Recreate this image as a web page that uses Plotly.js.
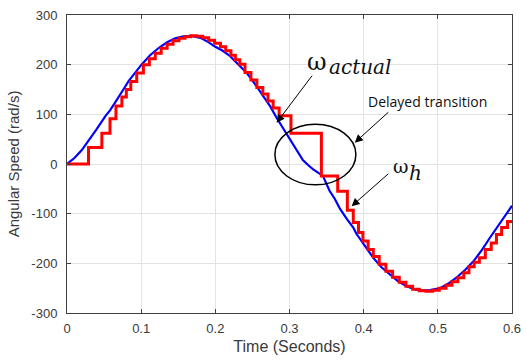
<!DOCTYPE html>
<html>
<head>
<meta charset="utf-8">
<script src="https://cdn.plot.ly/plotly-3.0.1.min.js"></script>
<style>html,body{margin:0;padding:0;background:#fff;}#chart{width:526px;height:360px;}</style>
</head>
<body>
<div id="chart"></div>
<script>
// Actual speed (blue)
const blueT = [0, 0.01, 0.02, 0.029, 0.04, 0.052, 0.058, 0.065, 0.07, 0.076, 0.083, 0.09, 0.101, 0.112, 0.124, 0.135, 0.146, 0.157, 0.168, 0.18, 0.19, 0.2, 0.21, 0.22, 0.232, 0.242, 0.253, 0.265, 0.274, 0.283, 0.296, 0.307, 0.318, 0.325, 0.332, 0.345, 0.354, 0.361, 0.368, 0.377, 0.386, 0.39, 0.4, 0.413, 0.424, 0.435, 0.446, 0.458, 0.47, 0.48, 0.49, 0.503, 0.515, 0.525, 0.537, 0.548, 0.56, 0.57, 0.582, 0.593, 0.6];
const blueV = [0, 12, 28, 46, 70, 97, 108, 124, 135, 150, 167, 180, 201, 219, 234, 245, 253, 257, 258, 254, 246, 236, 228, 217, 200, 184, 162, 137, 116, 92, 60, 33, 8, -2, -11, -24, -54, -70, -90, -110, -128, -140, -162, -189, -208, -222, -236, -246, -253, -255, -254, -250, -240, -229, -213, -196, -172, -149, -124, -101, -84];
// Hall-sensor speed estimate (red, sample-and-hold steps)
const redT = [0, 0.029, 0.047, 0.058, 0.066, 0.074, 0.08, 0.086, 0.094, 0.103, 0.111, 0.119, 0.127, 0.135, 0.143, 0.151, 0.159, 0.167, 0.175, 0.183, 0.191, 0.199, 0.207, 0.214, 0.221, 0.227, 0.233, 0.24, 0.248, 0.256, 0.264, 0.271, 0.278, 0.286, 0.302, 0.343, 0.365, 0.378, 0.386, 0.393, 0.399, 0.406, 0.413, 0.421, 0.43, 0.439, 0.448, 0.457, 0.466, 0.475, 0.484, 0.493, 0.502, 0.511, 0.519, 0.527, 0.535, 0.542, 0.549, 0.556, 0.564, 0.572, 0.579, 0.586, 0.594, 0.6];
const redV = [0, 33, 62, 91, 117, 135, 150, 166, 183, 200, 212, 223, 233, 241, 248, 253, 256, 258, 257, 254, 249, 243, 236, 228, 219, 210, 201, 184, 169, 154, 141, 127, 113, 97, 62, -24, -55, -93, -118, -138, -155, -172, -186, -202, -216, -228, -238, -246, -252, -255, -256, -254, -250, -244, -237, -229, -219, -207, -198, -189, -172, -159, -142, -128, -116, -116];

const xTicks = [0, 0.1, 0.2, 0.3, 0.4, 0.5, 0.6];
const xTickText = ['0', '0.1', '0.2', '0.3', '0.4', '0.5', '0.6'];
const yTicks = [-300, -200, -100, 0, 100, 200, 300];
const yTickText = ['-300', '-200', '-100', '0', '100', '200', '300'];
const xLabel = 'Time (Seconds)';
const yLabel = 'Angular Speed (rad/s)';
const noteDelayed = 'Delayed transition';

const traces = [
  {x: blueT, y: blueV, mode: 'lines', line: {color: '#0000ff', width: 2.2}, hoverinfo: 'skip', showlegend: false},
  {x: redT, y: redV, mode: 'lines', line: {color: '#ff0000', width: 3, shape: 'hv'}, hoverinfo: 'skip', showlegend: false}
];

const axisCommon = {
  showline: true, mirror: 'ticks', linecolor: '#404040', linewidth: 1,
  showgrid: true, gridcolor: '#e3e3e3', gridwidth: 1,
  ticks: 'inside', ticklen: 4, tickcolor: '#404040',
  zeroline: false, tickfont: {family: 'Liberation Sans, Arial, sans-serif', size: 13, color: '#3a3a3a'}
};

const serif = 'DejaVu Serif, serif';
const layout = {
  width: 526, height: 360,
  margin: {l: 67, r: 14, t: 15, b: 47},
  paper_bgcolor: '#ffffff', plot_bgcolor: '#ffffff',
  xaxis: Object.assign({}, axisCommon, {
    range: [0, 0.6], tickvals: xTicks, ticktext: xTickText, ticklabelstandoff: 3,
    title: {text: xLabel, font: {family: 'Liberation Sans, Arial, sans-serif', size: 16, color: '#3a3a3a'}, standoff: 6}
  }),
  yaxis: Object.assign({}, axisCommon, {
    range: [-300, 300], tickvals: yTicks, ticktext: yTickText, ticklabelstandoff: 6,
    title: {text: yLabel, font: {family: 'Liberation Sans, Arial, sans-serif', size: 15, color: '#3a3a3a'}, standoff: 8}
  }),
  shapes: [
    {type: 'circle', xref: 'x', yref: 'y', x0: 0.2803, x1: 0.3895, y0: -42, y1: 80, line: {color: '#000000', width: 1.5}}
  ],
  annotations: [
    // arrows
    {x: 0.2826, y: 83, ax: 0.332, ay: 181, axref: 'x', ayref: 'y', xref: 'x', yref: 'y', text: '', showarrow: true, arrowhead: 2, arrowsize: 1.6, arrowwidth: 1, arrowcolor: '#000'},
    {x: 0.388, y: 43, ax: 0.4353, ay: 107, axref: 'x', ayref: 'y', xref: 'x', yref: 'y', text: '', showarrow: true, arrowhead: 2, arrowsize: 1.6, arrowwidth: 1, arrowcolor: '#000'},
    {x: 0.3837, y: -85, ax: 0.4353, ay: -17, axref: 'x', ayref: 'y', xref: 'x', yref: 'y', text: '', showarrow: true, arrowhead: 2, arrowsize: 1.6, arrowwidth: 1, arrowcolor: '#000'},
    // labels
    {x: 0.4854, y: 126, xref: 'x', yref: 'y', text: noteDelayed, showarrow: false, font: {family: 'Open Sans, sans-serif', size: 14, color: '#111'}},
    {x: 0.3376, y: 205, xref: 'x', yref: 'y', text: 'ω', showarrow: false, font: {family: serif, size: 24, color: '#111'}},
    {x: 0.3949, y: 195, xref: 'x', yref: 'y', text: '<i>actual</i>', showarrow: false, font: {family: serif, size: 20, color: '#111'}},
    {x: 0.4505, y: -5, xref: 'x', yref: 'y', text: 'ω', showarrow: false, font: {family: serif, size: 19, color: '#111'}},
    {x: 0.4697, y: -18, xref: 'x', yref: 'y', text: '<i>h</i>', showarrow: false, font: {family: serif, size: 20, color: '#111'}}
  ]
};

Plotly.newPlot('chart', traces, layout, {staticPlot: true, displayModeBar: false});
</script>
</body>
</html>
